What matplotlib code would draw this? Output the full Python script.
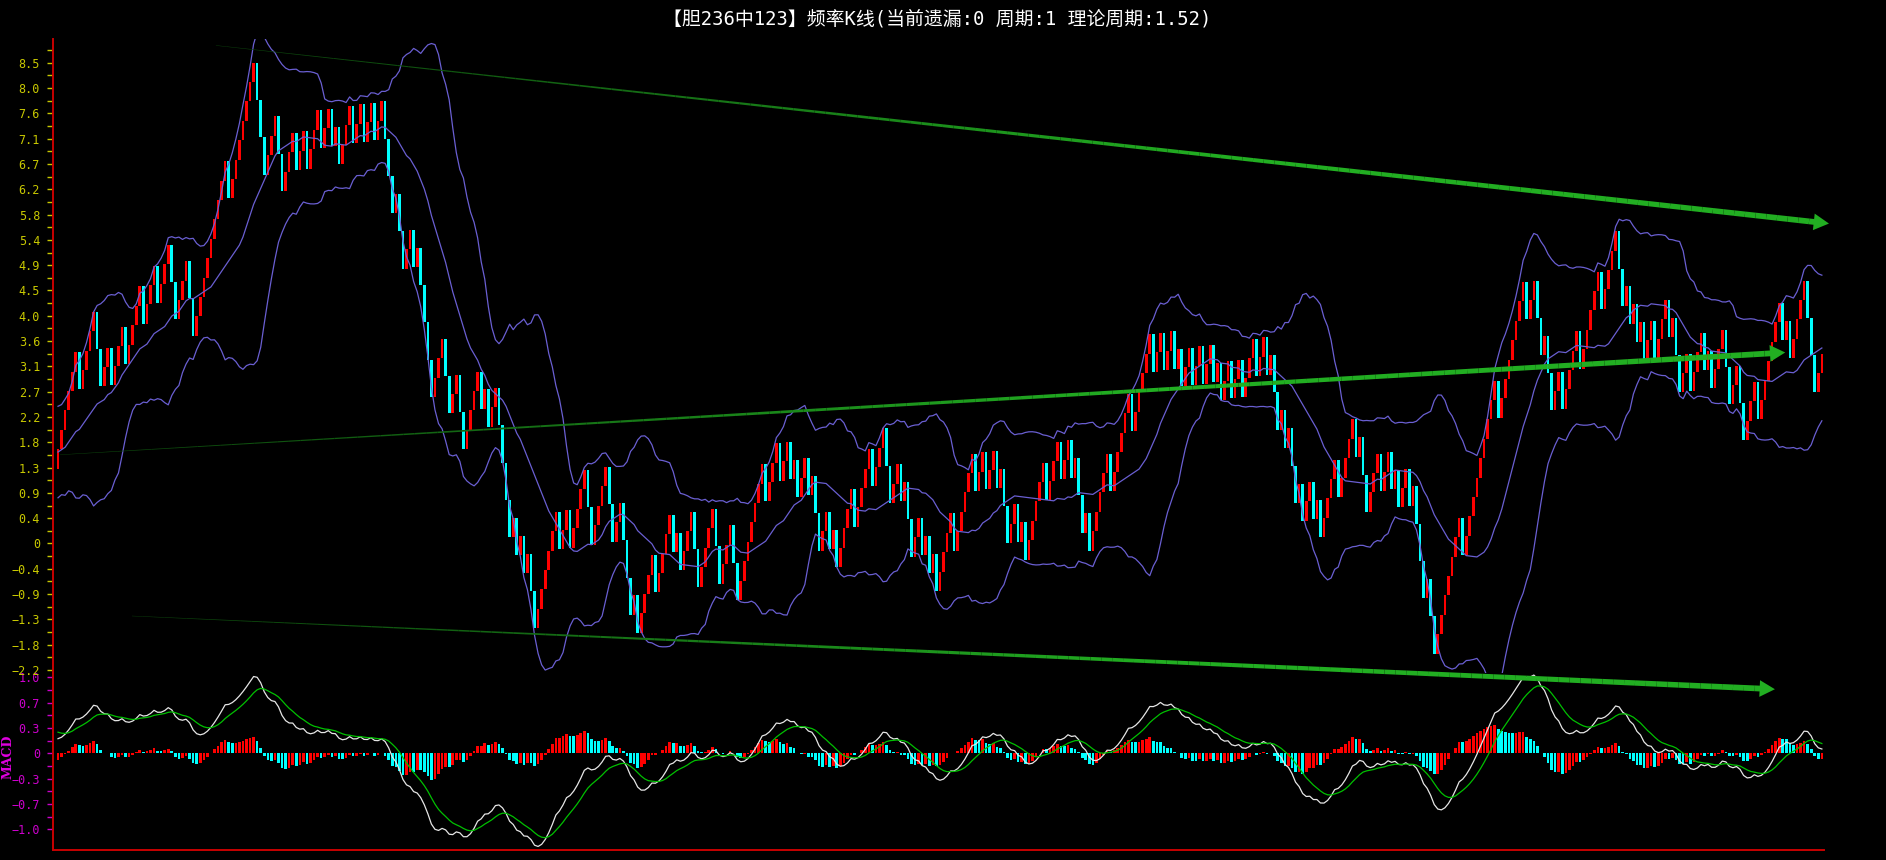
import numpy as np
import pandas as pd
import matplotlib
matplotlib.use("Agg")
import matplotlib.pyplot as plt
from matplotlib.collections import LineCollection
from matplotlib.colors import to_rgb

# ------------------------------------------------------------------ data
title_text = "【胆236中123】频率K线(当前遗漏:0 周期:1 理论周期:1.52)"
theory_period = 1.52          # hit -> +(1-1/T), miss -> -(1/T)
start_value = 1.32            # open of the first candle

# hit (R) / miss (C) sequence, read candle by candle, left to right
seq_a = "RRRRRRCRRRRCCRRCRRRCRRRRCRRRCRRRCCRRRCCRRRRRRRRRCRRRRRRR"
seq_b = "CCCRRRCCRRRCRRCRRRCRRCRCRRRCRRCRRCRRCCCRCCRRCRCCCCRRRCC"
seq_c = "RRCCRRRRCRCRRCCCCRCRCRCCRRRRRRCRRCRRRRC"
seq_d = "CRRRRCCRRCCCRCRRRRCRRRRCRCRRRCCRRRRCCRRRCCRRR"
seq_e = ("RRRRCRRRCRR" "CRCRRCRCCRRCRC" "RRRRCRRRRCRRR" "CCRRCRCCRRCRCRC"
         "RRRRCRRRRR" "CRRCRRCRCCRRCRCRR" "RRRCRRRCRR" "CRCCRCR"
         "RRRRCRRRRRCRRRRRCRR" "CRRCRCRRC" "RRCRR" "CRCRRCRRCR" "RRCRR"
         "CRCCRCR" "CCRCRRCRCR" "RRRCRRRR" "CRCCR" "RRCRR" "CRCRRCRCCCRCC"
         "RRRRRRRCRRRRRRRRRCRRRRRRRCRR" "CCRCCRRCR" "RRRCRRR" "RRCRRRR"
         "CCRCRCRCR")
seq_f = "RCRRRCRCCRRCRRRCRCRRRCCRRCCRRRCRRRRRRCRCRRRRCCCRR"

# closes before the visible window (only feed the indicators)
pre_close = [0.30, 0.65, 0.00, 0.35, 0.70, 1.05, 0.40, 0.75, 1.10, 0.45,
             0.80, 1.15, 1.50, 0.85, 1.20, 1.55, 1.90, 1.25, 1.60, 1.95,
             2.30, 1.65, 2.00, 2.35, 1.70, 2.05, 1.40, 1.75, 1.10, 1.32]

main_tick_step = 0.446
main_tick_labels = ["-2.2", "-1.8", "-1.3", "-0.9", "-0.4", "0", "0.4", "0.9",
                    "1.3", "1.8", "2.2", "2.7", "3.1", "3.6", "4.0", "4.5",
                    "4.9", "5.4", "5.8", "6.2", "6.7", "7.1", "7.6", "8.0", "8.5"]
macd_tick_labels = ["-1.0", "-0.7", "-0.3", "0", "0.3", "0.7", "1.0"]

# trend lines: (candle index, value) start and arrow tip
trend_upper = [(44.4, 8.78), (498.0, 5.64)]
trend_middle = [(0.6, 1.564), (485.7, 3.367)]
trend_lower = [(20.8, -1.279), (482.8, -2.570)]

# ------------------------------------------------------------------ series
seq = seq_a + seq_b + seq_c + seq_d + seq_e + seq_f
hit = np.array([c == "R" for c in seq])
step = np.where(hit, 1 - 1 / theory_period, -1 / theory_period)
close = start_value + np.cumsum(step)
open_ = np.concatenate([[start_value], close[:-1]])
N = len(close)
x = np.arange(N)

full = pd.Series(np.concatenate([pre_close, close]))
npre = len(pre_close)
mid = full.rolling(20, min_periods=1).mean()
sd = full.rolling(20, min_periods=2).std().fillna(0)
upper = (mid + 2 * sd).values[npre:]
lower = (mid - 2 * sd).values[npre:]
mid = mid.values[npre:]

ema12 = full.ewm(span=12, adjust=False).mean()
ema26 = full.ewm(span=26, adjust=False).mean()
dif = ema12 - ema26
dea = dif.ewm(span=9, adjust=False).mean()
macd_all = (dif - dea).values
hist = macd_all[npre:]
hist_prev = macd_all[npre - 1:-1]
dif = dif.values[npre:]
dea = dea.values[npre:]

# ------------------------------------------------------------------ figure
W, H = 1886, 860
fig = plt.figure(figsize=(W / 100, H / 100), dpi=100, facecolor="black")
L, R = 53, 1824
ax_m = fig.add_axes([L / W, 1 - 850 / H, (R - L) / W, (850 - 673) / H])
ax = fig.add_axes([L / W, 1 - 673 / H, (R - L) / W, (673 - 39) / H], sharex=ax_m)
for a in (ax, ax_m):
    a.set_facecolor("none")
    for s in a.spines.values():
        s.set_visible(False)
    a.spines["left"].set_visible(True)
    a.spines["left"].set_color("#c80000")
    a.spines["left"].set_linewidth(1.4)
ax.set_zorder(3)
ax_m.spines["bottom"].set_visible(True)
ax_m.spines["bottom"].set_color("#c80000")
ax_m.spines["bottom"].set_linewidth(1.4)

ax.set_xlim(-1.41, 496.6)
ax.set_ylim(-2.284, 8.894)
ax_m.set_ylim(-1.272, 1.057)

# candles
up = close > open_
ax.bar(x[up], (close - open_)[up], bottom=open_[up], width=0.74,
       color="#ff0000", linewidth=0, zorder=3)
ax.bar(x[~up], (close - open_)[~up], bottom=open_[~up], width=0.74,
       color="#00ffff", linewidth=0, zorder=3)

band_c = "#6a5fd2"
for s in (upper, mid, lower):
    ax.plot(x, s, color=band_c, lw=0.9, zorder=4)


def tapered(a, p0, p1, w0, w1, c0, c1, n=150):
    t = np.linspace(0, 1, n + 1)
    length = p1[0] - p0[0]
    t = t * (1 - 2.6 / length)
    xs = p0[0] + (p1[0] - p0[0]) * t
    ys = p0[1] + (p1[1] - p0[1]) * t
    segs = np.stack([np.column_stack([xs[:-1], ys[:-1]]),
                     np.column_stack([xs[1:], ys[1:]])], axis=1)
    tm = (t[:-1] + t[1:]) / 2
    c0, c1 = np.array(to_rgb(c0)), np.array(to_rgb(c1))
    cols = [tuple(c0 + (c1 - c0) * min(1, v * 1.6)) for v in tm]
    lc = LineCollection(segs, linewidths=w0 + (w1 - w0) * tm, colors=cols,
                        capstyle="butt", zorder=6, clip_on=False)
    a.add_collection(lc)
    back = 5.0
    xt = p1[0] - back
    yt = p1[1] - (p1[1] - p0[1]) * back / length
    a.annotate("", xy=p1, xytext=(xt, yt), annotation_clip=False, zorder=7,
               arrowprops=dict(arrowstyle="-|>,head_length=0.55,head_width=0.3",
                               color=c1, lw=0, mutation_scale=20,
                               shrinkA=0, shrinkB=0))


for tl in (trend_upper, trend_middle, trend_lower):
    tapered(ax, tl[0], tl[1], 0.3, 4.2, "#0b3d0b", "#22ae22")

# MACD panel
hc = np.where(hist >= hist_prev, "#ff0000", "#00ffff")
ax_m.bar(x, hist, width=0.74, color=hc, linewidth=0, zorder=2)
ax_m.plot(x, dif, color="#e6e6e6", lw=0.9, zorder=3)
ax_m.plot(x, dea, color="#00c000", lw=0.9, zorder=3)

# ticks
mono = "DejaVu Sans Mono"
kk = np.arange(-5, 20)
ax.set_yticks(kk * main_tick_step)
ax.set_yticklabels([s.replace("-", "\u2212") for s in main_tick_labels],
                   family=mono, fontsize=8.5)
ax.set_yticks((np.arange(-5, 20) + 0.5) * main_tick_step, minor=True)
ax.tick_params(axis="y", which="both", colors="#c8c800", length=4.3,
               width=1.0, pad=5, labelcolor="#c8c800")
ax.tick_params(axis="x", which="both", bottom=False, labelbottom=False)

ax_m.set_yticks(np.arange(-3, 4) / 3)
ax_m.set_yticklabels([s.replace("-", "\u2212") for s in macd_tick_labels],
                     family=mono, fontsize=8.5)
ax_m.set_yticks(np.array([-2.5, -1.5, -0.5, 0.5, 1.5, 2.5]) / 3, minor=True)
ax_m.tick_params(axis="y", which="both", colors="#cc00cc", length=4.3,
                 width=1.0, pad=5, labelcolor="#cc00cc")
ax_m.tick_params(axis="x", which="both", bottom=False, labelbottom=False)

fig.text(8 / W, 1 - 757 / H, "MACD", rotation=90, color="#e000e0",
         fontsize=9, fontweight="bold", family="DejaVu Serif",
         ha="center", va="center")
fig.text(937 / W, 1 - 19 / H, title_text, color="white", fontsize=13.6,
         family=["DejaVu Sans Mono", "Noto Sans CJK SC"],
         ha="center", va="center")

fig.savefig("out.png", dpi=100, facecolor="black")
